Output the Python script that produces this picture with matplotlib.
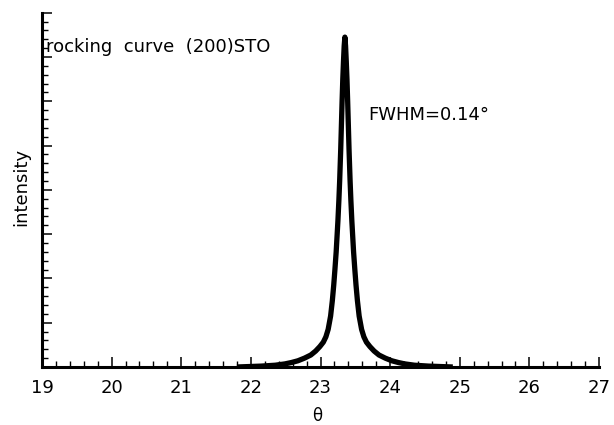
import matplotlib.pyplot as plt
from matplotlib.ticker import MultipleLocator

# rocking curve of the (200) STO reflection, read point by point
theta = [21.80, 22.15, 22.35, 22.49, 22.58, 22.675, 22.77, 22.86, 22.93,
         22.99, 23.04, 23.077, 23.11, 23.145, 23.17, 23.19, 23.207, 23.225,
         23.24, 23.25, 23.264, 23.275, 23.29, 23.30, 23.31, 23.32, 23.33,
         23.34, 23.35,
         23.36, 23.37, 23.38, 23.39, 23.40, 23.41, 23.425, 23.436, 23.45,
         23.46, 23.475, 23.493, 23.51, 23.53, 23.555, 23.59, 23.623, 23.66,
         23.71, 23.77, 23.84, 23.93, 24.025, 24.12, 24.21, 24.35, 24.55, 24.9]
intensity = [0.0, 0.02, 0.04, 0.07, 0.10, 0.14, 0.20, 0.27, 0.36,
             0.46, 0.56, 0.68, 0.85, 1.15, 1.5, 1.85, 2.2, 2.6,
             3.02, 3.3, 3.77, 4.2, 4.9, 5.45, 6.0, 6.5, 6.9,
             7.25, 7.45,
             7.25, 6.9, 6.5, 6.0, 5.45, 4.9, 4.2, 3.77, 3.3,
             3.02, 2.6, 2.2, 1.85, 1.5, 1.15, 0.85, 0.68, 0.56,
             0.46, 0.36, 0.27, 0.20, 0.14, 0.10, 0.07, 0.04, 0.02, 0.0]

x_ticks = [19, 20, 21, 22, 23, 24, 25, 26, 27]

fig = plt.figure(figsize=(6.14, 4.25), dpi=100)
ax = fig.add_axes([0.0684, 0.1365, 0.9072, 0.8335])

ax.plot(theta, intensity, color='black', lw=3.8,
        solid_joinstyle='round', solid_capstyle='butt', zorder=3)

ax.set_xlim(19, 27)
ax.set_ylim(0, 8)
ax.set_xticks(x_ticks)
ax.set_xticklabels([str(t) for t in x_ticks])
ax.xaxis.set_minor_locator(MultipleLocator(0.2))
ax.yaxis.set_major_locator(MultipleLocator(1))
ax.yaxis.set_minor_locator(MultipleLocator(0.2))
ax.set_yticklabels([])

for side in ['top', 'right']:
    ax.spines[side].set_visible(False)
for side in ['left', 'bottom']:
    ax.spines[side].set_linewidth(2.2)

ax.tick_params(which='major', direction='in', length=7, width=1.1,
               labelsize=13, pad=9)
ax.tick_params(which='minor', direction='in', length=4, width=1.0)
ax.tick_params(axis='y', which='both', left=True, labelleft=False)

ax.set_xlabel('θ', fontsize=12)
ax.xaxis.label.set_va('center')
ax.xaxis.set_label_coords(0.494, -0.137)
ax.set_ylabel('intensity', fontsize=13)
ax.yaxis.label.set_va('center')
ax.yaxis.set_label_coords(-0.038, 0.509)

ax.text(19.06, 7.22, 'rocking  curve  (200)STO', fontsize=13, va='center')
ax.text(23.68, 5.69, 'FWHM=0.14°', fontsize=13, va='center')

fig.savefig('out.png', dpi=100)
